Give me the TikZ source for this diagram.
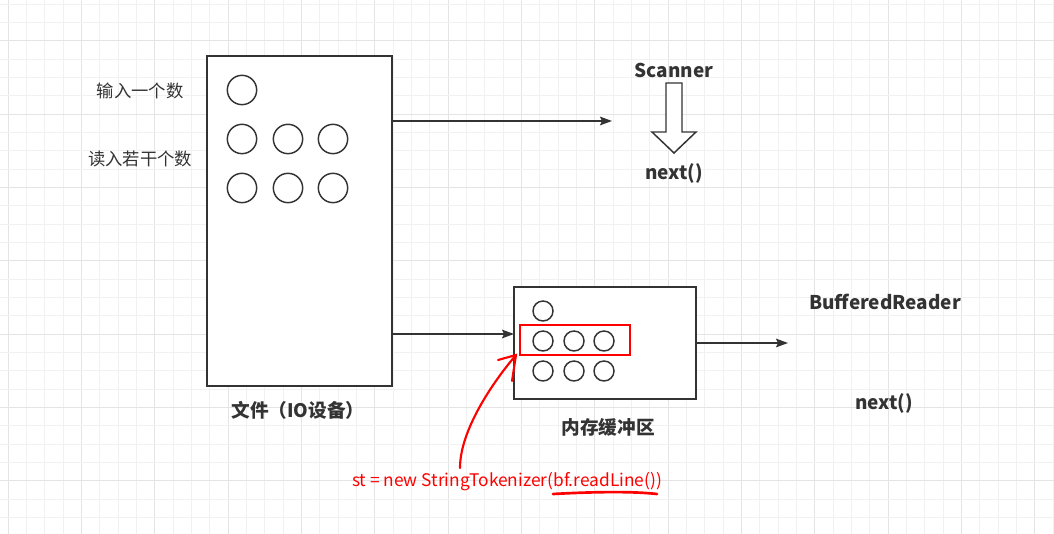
\documentclass[tikz,border=0pt]{standalone}
\usepackage{fontspec}
\setmainfont{Noto Sans CJK SC}
\usepackage{xcolor}
\usepackage{tikz}
\usetikzlibrary{arrows.meta}

\definecolor{grigio}{HTML}{333333}
\definecolor{rosso}{HTML}{FF0000}
\definecolor{griglia}{HTML}{F1F1F1}
\definecolor{grigliaM}{HTML}{E4E4E4}

\begin{document}
\begin{tikzpicture}[x=0.75pt,y=-0.75pt,
    minore/.style={griglia,line width=0.75pt},
    maggiore/.style={grigliaM,line width=0.75pt},
    scatola/.style={draw=grigio,line width=1.1pt,fill=white,inner sep=0pt},
    cerchio/.style={draw=grigio,line width=1.1pt,circle,inner sep=0pt,minimum size=22pt},
    cerchietto/.style={draw=grigio,line width=1.1pt,circle,inner sep=0pt,minimum size=15pt},
    freccia/.style={draw=grigio,line width=1.1pt,-{Stealth[length=9pt,width=6.5pt,inset=1.5pt]}},
    titolo/.style={text=grigio,font=\bfseries\fontsize{14.2}{17}\selectfont,inner sep=0pt},
    etichetta/.style={text=grigio,font=\fontsize{13}{16}\selectfont,inner sep=0pt}]

    % Sfondo e griglia
\fill[white] (0,0) rectangle (1054,534);
\useasboundingbox (0,0) rectangle (1054,534);
\foreach \k in {0,...,57} {
    \pgfmathsetmacro{\xx}{8.33+\k*18.333}
    \pgfmathtruncatemacro{\resto}{mod(\k,4)}
    \ifnum\resto=0
        \draw[maggiore] (\xx,0) -- (\xx,534);
    \else
        \draw[minore] (\xx,0) -- (\xx,534);
    \fi
}
\foreach \k in {0,...,29} {
    \pgfmathsetmacro{\yy}{4.03+\k*18.333}
    \pgfmathtruncatemacro{\resto}{mod(\k+2,4)}
    \ifnum\resto=0
        \draw[maggiore] (0,\yy) -- (1054,\yy);
    \else
        \draw[minore] (0,\yy) -- (1054,\yy);
    \fi
}

    % File (dispositivo IO)
\node[scatola,minimum width=138.75pt,minimum height=247.5pt] (file) at (299.5,221) {};
\node[cerchio] (f0) at (242,90) {};
\foreach \r/\yy in {1/139,2/188} {
    \foreach \c/\xx in {1/242,2/288,3/333} {
        \node[cerchio] (f\r\c) at (\xx,\yy) {};
    }
}
\node[titolo,font=\bfseries\fontsize{14}{17}\selectfont] (fileLab) at (298,410) {文件（IO设备）};

    % Etichette a sinistra
\node[etichetta] (uno) at (140,91) {输入一个数};
\node[etichetta] (tanti) at (140,159) {读入若干个数};

    % Scanner
\coordinate (fineS) at (612,121);
\draw[freccia] (file.east |- fineS) -- (fineS);
\node[titolo] (scanner) at (674,70) {Scanner};
\draw[grigio,line width=1.1pt,fill=white] (666,83) -- (682,83) -- (682,132) -- (696,132)
    -- (674,153) -- (652,132) -- (666,132) -- cycle; % Freccia vuota
\node[titolo] (nextS) at (674,173) {next()};

    % Buffer in memoria
\node[scatola,minimum width=136.5pt,minimum height=84pt] (buffer) at (605,343) {};
\node[cerchietto] (b0) at (543,311) {};
\foreach \r/\yy in {1/341,2/371} {
    \foreach \c/\xx in {1/543,2/574,3/604} {
        \node[cerchietto] (b\r\c) at (\xx,\yy) {};
    }
}
\node[draw=rosso,line width=1.6pt,minimum width=82.5pt,minimum height=22.5pt] (riga) at (575,340) {};
\node[titolo,font=\bfseries\fontsize{14}{17}\selectfont] (bufLab) at (608,427) {内存缓冲区};
\coordinate (ingresso) at (514,334);
\draw[freccia] (file.east |- ingresso) -- (ingresso);

    % BufferedReader
\coordinate (fineB) at (788,343);
\draw[freccia] (buffer.east) -- (fineB);
\node[titolo] (reader) at (885,302) {BufferedReader};
\node[titolo] (nextB) at (884,403) {next()};

    % Nota in rosso
\node[text=rosso,font=\fontsize{13}{15}\selectfont,inner sep=0pt] (nota) at (507,482)
    {st = new StringTokenizer(bf.readLine())};
\draw[rosso,line width=2pt,line cap=round] (553,494) .. controls (590,492) and (630,491) .. (657,494);
\coordinate (punta) at (516,355);
\draw[rosso,line width=1.6pt,line cap=round] (460,468) .. controls (460,430) and (493,382) .. (punta);
\draw[rosso,line width=1.6pt,line cap=round] (498,360) -- (punta) -- (512,381);

\end{tikzpicture}
\end{document}
